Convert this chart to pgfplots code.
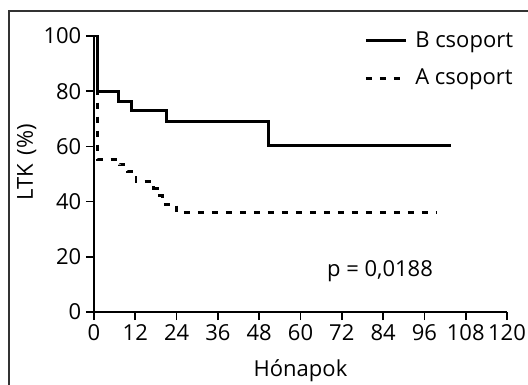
\documentclass[border=0pt]{standalone}
\usepackage{pgfplots}
\pgfplotsset{compat=1.18}
\usepackage{fontspec}
\setmainfont{Open Sans}
\newcommand{\myfont}{\fontsize{16.5}{20}\selectfont}
\begin{document}
\begin{tikzpicture}
\useasboundingbox (-70.5pt,-54.75pt) rectangle (325.5pt,234pt);
\draw[line width=1.1pt, black!80] (-63.75pt,-70pt) -- (-63.75pt,225.75pt) -- (340pt,225.75pt);
\begin{axis}[
  at={(0pt,0pt)}, anchor=south west,
  scale only axis, width=309.75pt, height=207pt,
  xmin=0, xmax=120, ymin=0, ymax=100,
  axis x line*=bottom, axis y line*=left,
  axis line style={-, line width=1.2pt},
  xtick={0,12,...,120}, ytick={0,20,...,100},
  tick align=outside, major tick length=6pt,
  tick style={line width=1.2pt, black},
  /pgf/number format/assume math mode=true,
  tick label style={font=\myfont},
  xlabel={Hónapok}, ylabel={LTK\hspace{0.15em} (\%)},
  label style={font=\myfont},
  xlabel style={at={(axis description cs:0.5,-0.232)}, anchor=base},
  ylabel style={at={(axis description cs:-0.148,0.542)}, anchor=base},
  legend style={draw=none, fill=none, font=\myfont,
    at={(axis description cs:0.654,1.027)}, anchor=north west,
    row sep=11pt, inner sep=0pt},
  legend cell align=left,
  legend image code/.code={\draw[#1] (0pt,0pt) -- (30pt,0pt);},
  /tikz/every odd column/.append style={column sep=4pt},
  clip=false,
]
\addplot[const plot, black, line width=2.2pt] coordinates {
(0,100)(0.95,80)(7.2,76.4)(11.0,73.1)(21.1,69.0)(50.8,60.4)(103.8,60.4)};
\addlegendentry{B csoport}
\addplot[const plot, black, line width=2.2pt, dash pattern=on 4.5pt off 6pt] coordinates {
(0,100)(0.95,55.3)(7.4,53.3)(9.6,51.0)(11.3,49.3)(12.2,47.3)(17.3,44.7)(18.4,42.2)(19.8,39.1)(23.9,36.2)(99.8,36.2)};
\addlegendentry{A csoport}
\node[font=\myfont, anchor=base] at (axis cs:83.1,12.7) {p = 0,0188};
\end{axis}
\end{tikzpicture}
\end{document}
